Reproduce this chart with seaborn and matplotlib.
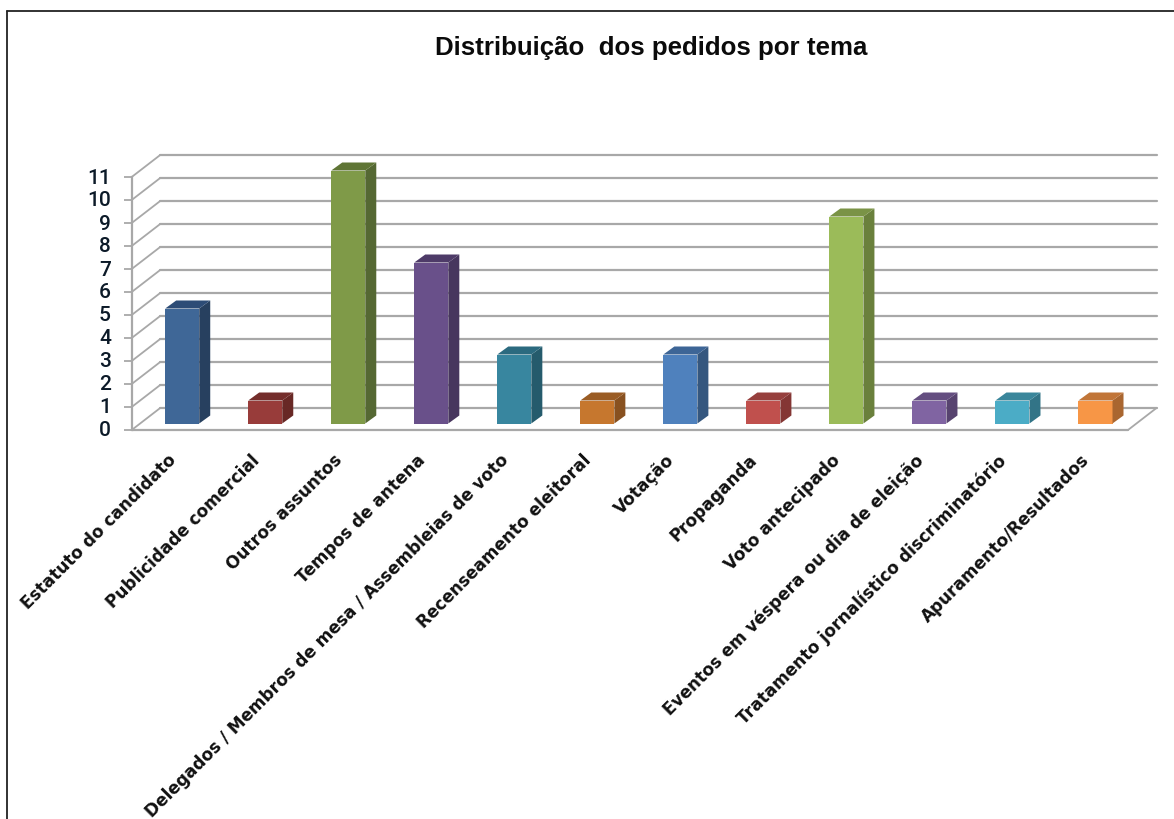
import pandas as pd
import matplotlib
matplotlib.use('Agg')
import matplotlib.pyplot as plt
from matplotlib.lines import Line2D
from matplotlib.patches import Polygon
from matplotlib.transforms import ScaledTranslation
import seaborn as sns

temas = ['Estatuto do candidato', 'Publicidade comercial', 'Outros assuntos', 'Tempos de antena',
         'Delegados / Membros de mesa / Assembleias de voto', 'Recenseamento eleitoral', 'Votação',
         'Propaganda', 'Voto antecipado', 'Eventos em véspera ou dia de eleição',
         'Tratamento jornalístico discriminatório', 'Apuramento/Resultados']
pedidos = [5, 1, 11, 7, 3, 1, 3, 1, 9, 1, 1, 1]
cores = ['#3F6797', '#983C3A', '#7F9A48', '#69508A', '#38869F', '#C6772E',
         '#4F81BD', '#C0504D', '#9BBB59', '#8064A2', '#4BACC6', '#F79646']
cores_lado = ['#27405F', '#682825', '#556833', '#47365E', '#255B6C', '#885120',
              '#35577F', '#843634', '#6A803C', '#57436F', '#327487', '#A96630']
cores_topo = ['#2D4C76', '#742D2B', '#5F7535', '#4E3B68', '#2B6A7F', '#9A5C24',
              '#3D6596', '#963F3D', '#7A9346', '#644E80', '#3A869B', '#C17538']

df = pd.DataFrame({'tema': temas, 'pedidos': pedidos})

W, H = 1174, 820
# tamanho de uma categoria / de uma unidade, em pixels
PX_X = (1128 - 131.7) / 12
PX_Y = (431 - 178) / 11
GRID = '#A8A8A8'

sns.set_theme(style='white')
plt.rcParams['font.family'] = ['Liberation Sans', 'DejaVu Sans']

fig = plt.figure(figsize=(W / 100, H / 100), dpi=100)
ax = fig.add_axes([131.7 / W, 1 - 431 / H, (1128 - 131.7) / W, (431 - 178) / H])

sns.barplot(data=df, x='tema', y='pedidos', hue='tema', palette=cores, order=temas, hue_order=temas,
            dodge=False, legend=False, width=0.41, saturation=1, ax=ax, zorder=3, edgecolor='none', linewidth=0)
ax.set_xlim(-0.5, 11.5)
ax.set_ylim(0, 11)
ax.set_xlabel('')
ax.set_ylabel('')

# profundidade do "3D"
back_x, back_y = 28.5 / PX_X, 22 / PX_Y
shift_x, shift_y = 9 / PX_X, 6.5 / PX_Y
side_x, side_y = 11 / PX_X, 8 / PX_Y

x0, x1 = ax.get_xlim()
for v in range(0, 12):
    ax.plot([x0 + back_x, x1 + back_x], [v + back_y, v + back_y], color=GRID, lw=1.6, clip_on=False, zorder=1)
    ax.plot([x0, x0 + back_x], [v, v + back_y], color=GRID, lw=1.3, clip_on=False, zorder=1)
ax.plot([x0, x1], [0, 0], color=GRID, lw=1.6, clip_on=False, zorder=1)
ax.plot([x1, x1 + back_x], [0, back_y], color=GRID, lw=1.3, clip_on=False, zorder=1)

for i, bar in enumerate(ax.patches):
    bar.set_x(bar.get_x() + shift_x)
    bar.set_y(shift_y)
    bar.set_clip_on(False)
    l, r = bar.get_x(), bar.get_x() + bar.get_width()
    b, t = bar.get_y(), bar.get_y() + bar.get_height()
    ax.add_patch(Polygon([(r, b), (r + side_x, b + side_y), (r + side_x, t + side_y), (r, t)],
                         facecolor=cores_lado[i], edgecolor='none', clip_on=False, zorder=3))
    ax.add_patch(Polygon([(l, t), (l + side_x, t + side_y), (r + side_x, t + side_y), (r, t)],
                         facecolor=cores_topo[i], edgecolor='none', clip_on=False, zorder=3))

for s in ['top', 'right', 'bottom']:
    ax.spines[s].set_visible(False)
ax.spines['left'].set_color(GRID)
ax.spines['left'].set_linewidth(1.6)

ax.set_yticks(range(0, 12))
ax.tick_params(axis='y', left=True, length=6, width=1.3, color=GRID, labelsize=15, pad=9, labelcolor='#0C1A28')
ax.tick_params(axis='x', bottom=False, pad=10)
ax.set_xticks(range(12))
ax.set_xticklabels(temas, rotation=45, ha='right', va='top', rotation_mode='anchor',
                   fontsize=12.2, fontweight='bold', fontfamily='DejaVu Sans', color='#111111')
# os números ficam um pouco acima das marcas
sobe = ScaledTranslation(0, 2 / 100, fig.dpi_scale_trans)
for lab in ax.get_yticklabels():
    lab.set_fontfamily('Roboto')
    lab.set_fontweight('medium')
    lab.set_transform(lab.get_transform() + sobe)
ajuste = ScaledTranslation(-6 / 100, 2 / 100, fig.dpi_scale_trans)
for lab in ax.get_xticklabels():
    lab.set_transform(lab.get_transform() + ajuste)

fig.text(651 / W, 1 - 55 / H, 'Distribuição  dos pedidos por tema', ha='center', va='baseline',
         fontsize=18.6, fontweight='bold', color='#0B0B0B')

# moldura do gráfico
fig.add_artist(Line2D([7 / W, 7 / W], [0, 1 - 11.5 / H], color='#222222', lw=1.3))
fig.add_artist(Line2D([7 / W, 1], [1 - 11.5 / H, 1 - 11.5 / H], color='#222222', lw=1.3))

fig.savefig('out.png', dpi=100)
